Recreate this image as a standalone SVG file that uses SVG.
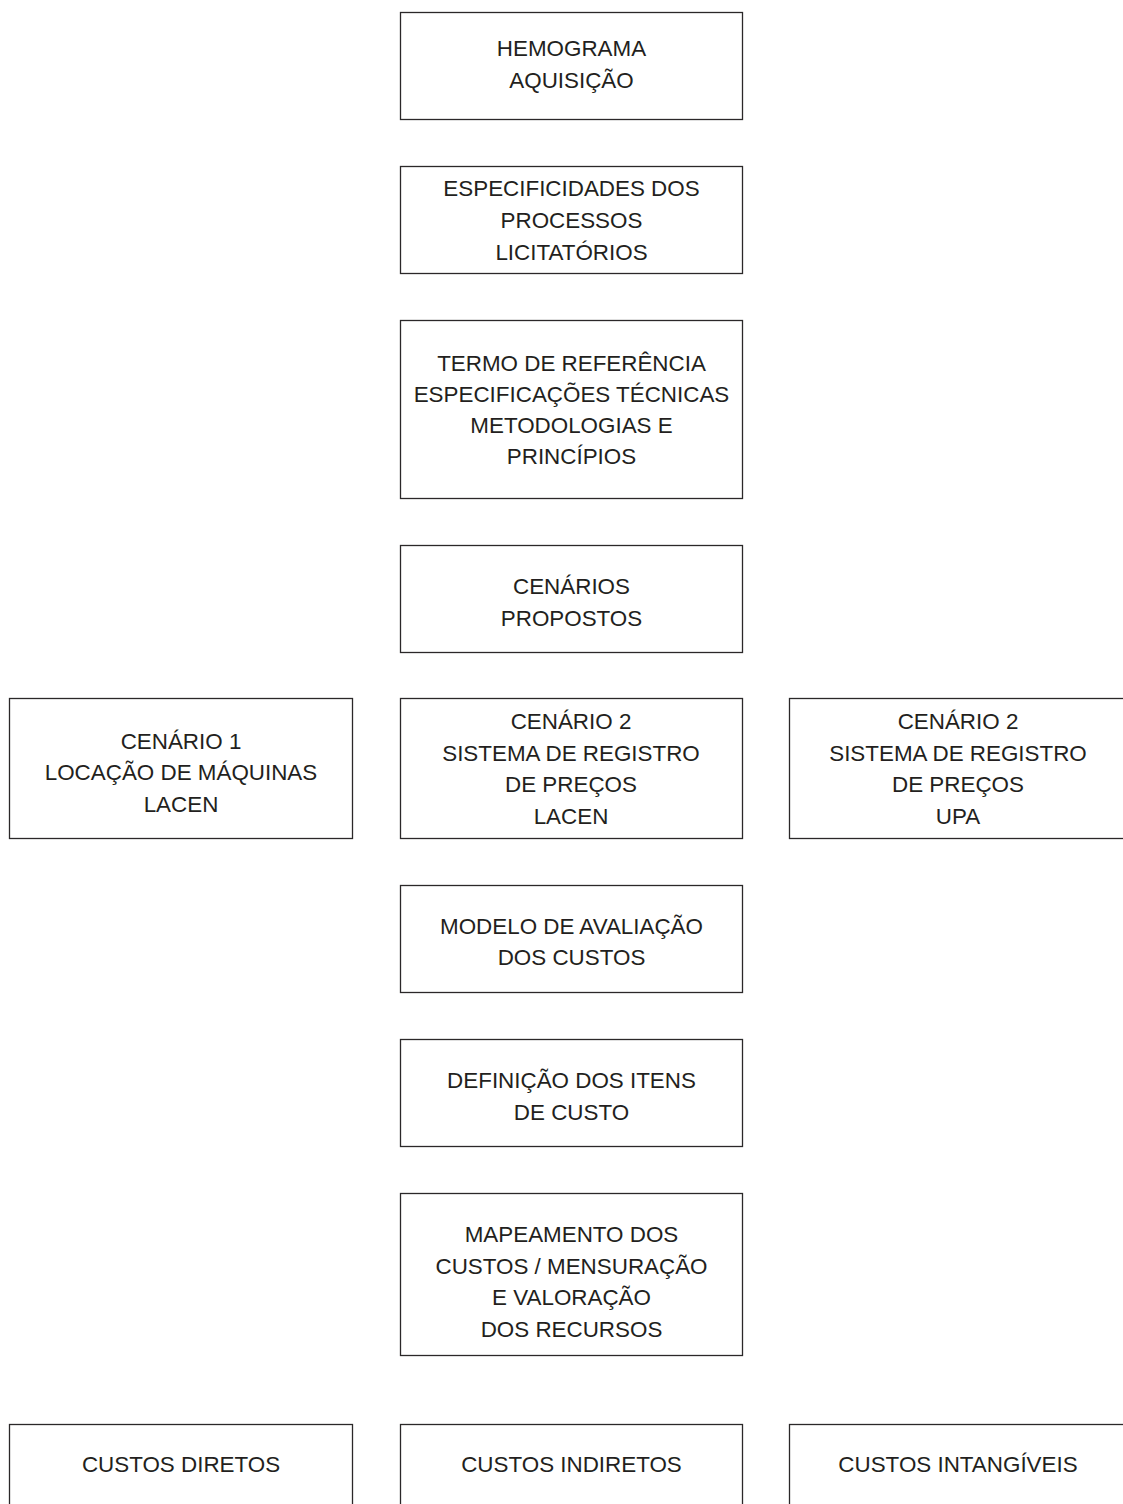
<svg xmlns="http://www.w3.org/2000/svg" width="1123" height="1504" viewBox="0 0 1123 1504">
<style>
.box{fill:#ffffff;stroke:#2b2829;stroke-width:1.3}
.t{font-family:"Liberation Sans",Arial,Helvetica,sans-serif;font-size:22.4px;fill:#231f20;text-anchor:middle}
</style>
<rect x="0" y="0" width="1123" height="1504" fill="#ffffff"/>
<g id="connectors"/>
<g id="n1"><rect class="box" x="400.5" y="12.5" width="342" height="107"/>
<text class="t" x="571.5" y="56">HEMOGRAMA</text><text class="t" x="571.5" y="88">AQUISIÇÃO</text></g>
<g id="n2"><rect class="box" x="400.5" y="166.5" width="342" height="107"/>
<text class="t" x="571.5" y="196">ESPECIFICIDADES DOS</text><text class="t" x="571.5" y="228">PROCESSOS</text><text class="t" x="571.5" y="260">LICITATÓRIOS</text></g>
<g id="n3"><rect class="box" x="400.5" y="320.5" width="342" height="178"/>
<text class="t" x="571.5" y="371">TERMO DE REFERÊNCIA</text><text class="t" x="571.5" y="402">ESPECIFICAÇÕES TÉCNICAS</text><text class="t" x="571.5" y="433">METODOLOGIAS E</text><text class="t" x="571.5" y="464">PRINCÍPIOS</text></g>
<g id="n4"><rect class="box" x="400.5" y="545.5" width="342" height="107"/>
<text class="t" x="571.5" y="594">CENÁRIOS</text><text class="t" x="571.5" y="626">PROPOSTOS</text></g>
<g id="n5a"><rect class="box" x="9.5" y="698.5" width="343" height="140"/>
<text class="t" x="181" y="749">CENÁRIO 1</text><text class="t" x="181" y="780">LOCAÇÃO DE MÁQUINAS</text><text class="t" x="181" y="812">LACEN</text></g>
<g id="n5b"><rect class="box" x="400.5" y="698.5" width="342" height="140"/>
<text class="t" x="571" y="729">CENÁRIO 2</text><text class="t" x="571" y="761">SISTEMA DE REGISTRO</text><text class="t" x="571" y="792">DE PREÇOS</text><text class="t" x="571" y="824">LACEN</text></g>
<g id="n5c"><rect class="box" x="789.5" y="698.5" width="344" height="140"/>
<text class="t" x="958" y="729">CENÁRIO 2</text><text class="t" x="958" y="761">SISTEMA DE REGISTRO</text><text class="t" x="958" y="792">DE PREÇOS</text><text class="t" x="958" y="824">UPA</text></g>
<g id="n6"><rect class="box" x="400.5" y="885.5" width="342" height="107"/>
<text class="t" x="571.5" y="934">MODELO DE AVALIAÇÃO</text><text class="t" x="571.5" y="965">DOS CUSTOS</text></g>
<g id="n7"><rect class="box" x="400.5" y="1039.5" width="342" height="107"/>
<text class="t" x="571.5" y="1088">DEFINIÇÃO DOS ITENS</text><text class="t" x="571.5" y="1120">DE CUSTO</text></g>
<g id="n8"><rect class="box" x="400.5" y="1193.5" width="342" height="162"/>
<text class="t" x="571.5" y="1242">MAPEAMENTO DOS</text><text class="t" x="571.5" y="1274">CUSTOS / MENSURAÇÃO</text><text class="t" x="571.5" y="1305">E VALORAÇÃO</text><text class="t" x="571.5" y="1337">DOS RECURSOS</text></g>
<g id="n9a"><rect class="box" x="9.5" y="1424.5" width="343" height="120"/>
<text class="t" x="181" y="1472">CUSTOS DIRETOS</text></g>
<g id="n9b"><rect class="box" x="400.5" y="1424.5" width="342" height="120"/>
<text class="t" x="571.5" y="1472">CUSTOS INDIRETOS</text></g>
<g id="n9c"><rect class="box" x="789.5" y="1424.5" width="344" height="120"/>
<text class="t" x="958" y="1472">CUSTOS INTANGÍVEIS</text></g>
</svg>
